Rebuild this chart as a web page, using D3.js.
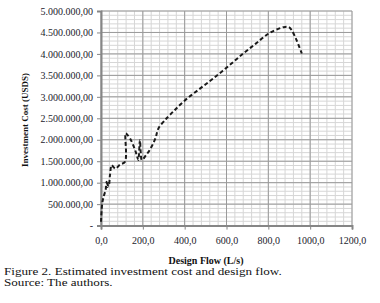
<!DOCTYPE html>
<html>
<head>
<meta charset="utf-8">
<script src="https://cdn.jsdelivr.net/npm/d3@7"></script>
<style>
  body { margin: 0; background: #fff; }
  svg { display: block; }
</style>
</head>
<body>
<script>
// Data (design flow L/s, investment cost USD$)
const flow = [0, 6, 14, 22, 27, 31, 35, 38, 43, 51, 60, 70, 90, 115, 118, 125, 139, 160, 171, 178, 186, 190, 195, 215, 234, 260, 274, 306, 314, 350, 402, 470, 537, 610, 680, 740, 800, 850, 880, 900, 912, 935, 960];
const cost = [90000, 519000, 700000, 830000, 1020000, 900000, 984000, 950000, 1180000, 1410000, 1360000, 1330000, 1420000, 1490000, 2150000, 2120000, 2030000, 1800000, 1640000, 1530000, 1990000, 1700000, 1530000, 1640000, 1770000, 2030000, 2260000, 2460000, 2500000, 2680000, 2920000, 3180000, 3430000, 3720000, 4010000, 4240000, 4470000, 4590000, 4630000, 4620000, 4550000, 4320000, 4010000];
const xTicks = [0, 200, 400, 600, 800, 1000, 1200];
const yTicks = [0, 500000, 1000000, 1500000, 2000000, 2500000, 3000000, 3500000, 4000000, 4500000, 5000000];

const W = 380, H = 303;
const margin = {top: 11, right: 28, bottom: 77, left: 101};
const width = 352 - margin.left;
const height = 225.6 - margin.top;

const loc = d3.formatLocale({decimal: ",", thousands: ".", grouping: [3], currency: ["", ""]});
const fmtY = d => d === 0 ? "-" : loc.format(",.2f")(d);
const fmtX = loc.format(".1f");

const svg = d3.select("body").append("svg")
  .attr("width", W)
  .attr("height", H);

const g = svg.append("g")
  .attr("transform", `translate(${margin.left},${margin.top})`);

const x = d3.scaleLinear().domain([0, 1200]).range([0, width]);
const y = d3.scaleLinear().domain([0, 5000000]).range([height, 0]);

// minor grid
g.append("g")
  .selectAll("line")
  .data(d3.range(0, 1201, 40))
  .join("line")
  .attr("x1", d => x(d)).attr("x2", d => x(d))
  .attr("y1", 0).attr("y2", height)
  .attr("stroke", "#d6d6d6").attr("stroke-width", 1);

g.append("g")
  .selectAll("line")
  .data(d3.range(0, 5000001, 100000))
  .join("line")
  .attr("x1", 0).attr("x2", width)
  .attr("y1", d => y(d)).attr("y2", d => y(d))
  .attr("stroke", "#d6d6d6").attr("stroke-width", 1);

// major grid
g.append("g")
  .selectAll("line")
  .data(xTicks)
  .join("line")
  .attr("x1", d => x(d)).attr("x2", d => x(d))
  .attr("y1", 0).attr("y2", height)
  .attr("stroke", "#9a9a9a").attr("stroke-width", 1);

g.append("g")
  .selectAll("line")
  .data(yTicks)
  .join("line")
  .attr("x1", 0).attr("x2", width)
  .attr("y1", d => y(d)).attr("y2", d => y(d))
  .attr("stroke", "#9a9a9a").attr("stroke-width", 1);

// axes
const yAxis = g.append("g")
  .call(d3.axisLeft(y).tickValues(yTicks).tickFormat(fmtY).tickSize(4).tickPadding(4));
const xAxis = g.append("g")
  .attr("transform", `translate(0,${height})`)
  .call(d3.axisBottom(x).tickValues(xTicks).tickFormat(fmtX).tickSize(4).tickPadding(7));

[xAxis, yAxis].forEach(a => {
  a.select(".domain").attr("stroke", "#868686").attr("stroke-width", 2);
  a.selectAll(".tick line").attr("stroke", "#868686");
  a.selectAll("text")
    .attr("font-family", "Liberation Serif, serif")
    .attr("font-size", 10)
    .attr("fill", "#1b1b2b");
});

// data line
const line = d3.line()
  .x((d, i) => x(flow[i]))
  .y(d => y(d))
  .curve(d3.curveCatmullRom.alpha(0.5));

g.append("path")
  .datum(cost)
  .attr("d", line)
  .attr("fill", "none")
  .attr("stroke", "#1a1a1a")
  .attr("stroke-width", 2)
  .attr("stroke-dasharray", "4,2.5");

// axis titles
svg.append("text")
  .attr("transform", `translate(28,120) rotate(-90)`)
  .attr("text-anchor", "middle")
  .attr("font-family", "Liberation Serif, serif")
  .attr("font-weight", "bold")
  .attr("font-size", 9)
  .attr("fill", "#111")
  .text("Investment Cost (USDS)");

svg.append("text")
  .attr("x", 206)
  .attr("y", 264)
  .attr("text-anchor", "middle")
  .attr("font-family", "Liberation Serif, serif")
  .attr("font-weight", "bold")
  .attr("font-size", 10)
  .attr("fill", "#111")
  .text("Design Flow (L/s)");

// caption (the figure is slightly stretched horizontally)
const cap = svg.append("g")
  .attr("transform", "translate(4,0) scale(1.25,1)")
  .attr("font-family", "Liberation Serif, serif")
  .attr("font-size", 10.5)
  .attr("fill", "#111");

cap.append("text")
  .attr("x", 0).attr("y", 275.5)
  .text("Figure 2. Estimated investment cost and design flow.");

cap.append("text")
  .attr("x", 0).attr("y", 286.5)
  .text("Source: The authors.");
</script>
</body>
</html>
